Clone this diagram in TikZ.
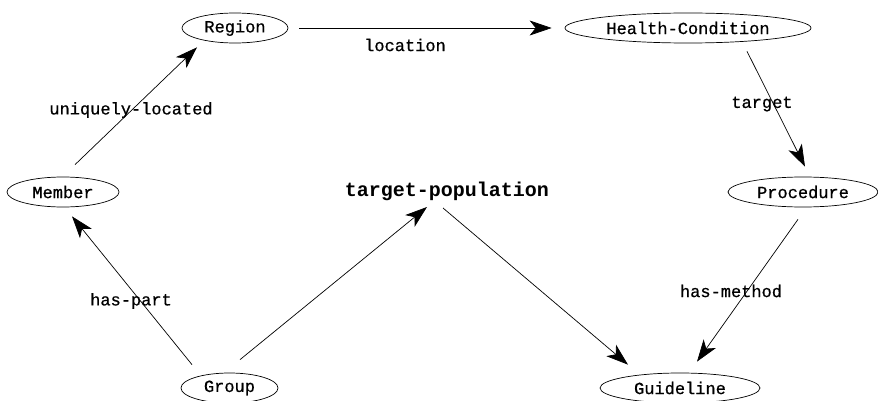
\documentclass[tikz,border=0pt]{standalone}
\usepackage{fontspec}
\setmonofont{Liberation Mono}
\newfontfamily\medmono[BoldFont={Liberation Mono},BoldFeatures={FakeBold=0.7}]{Liberation Mono}
\usetikzlibrary{shapes.geometric,arrows.meta}
\tikzset{
  ent/.style={draw, ellipse, inner sep=0pt, line width=0.7pt, font=\medmono\bfseries\fontsize{17}{17}\selectfont},
  lbl/.style={inner sep=0pt, font=\medmono\bfseries\fontsize{17}{17}\selectfont},
  big/.style={inner sep=0pt, font=\ttfamily\bfseries\fontsize{20}{20}\selectfont},
  arr/.style={line width=0.7pt, -{Stealth[length=22pt,width=15pt,inset=6pt]}}
}
\begin{document}
\begin{tikzpicture}[x=1pt,y=-1pt]
\useasboundingbox (0,0) rectangle (878,401);
\node[ent, minimum width=106pt, minimum height=30pt] (reg) at (235,28) {Region};
\node[ent, minimum width=246pt, minimum height=30pt] (hc) at (688,28) {Health-Condition};
\node[ent, minimum width=150pt, minimum height=30pt] (proc) at (803,192) {Procedure};
\node[ent, minimum width=112pt, minimum height=30pt] (mem) at (63,192) {Member};
\node[ent, minimum width=97pt, minimum height=30pt] (grp) at (229.5,388) {Group};
\node[ent, minimum width=160pt, minimum height=30pt] (gl) at (680,388) {Guideline};
\node[big] (tp) at (447,191) {target-population};

\node[lbl] (l1) at (405,45) {location};
\node[lbl] (l2) at (131,110) {uniquely-located};
\node[lbl] (l3) at (762,104) {target};
\node[lbl] (l4) at (131,301) {has-part};
\node[lbl] (l5) at (731,291) {has-method};

\draw[arr] ([shift={(11,0)}]reg.east) -- ([shift={(-13,0)}]hc.west);
\draw[arr] ([shift={(12,-12)}]mem.north) -- ([shift={(-38,4)}]reg.south);
\draw[arr] ([shift={(59,8)}]hc.south) -- ([shift={(2,-10)}]proc.north);
\draw[arr] ([shift={(-37.5,-8)}]grp.north) -- ([shift={(9,9)}]mem.south);
\draw[arr] ([shift={(10.5,-13)}]grp.north) -- ([shift={(-20,16)}]tp.center);
\draw[arr] ([shift={(-4,17)}]tp.center) -- ([shift={(-52,-8)}]gl.north);
\draw[arr] ([shift={(-5,12)}]proc.south) -- ([shift={(17,-11)}]gl.north);
\end{tikzpicture}
\end{document}
